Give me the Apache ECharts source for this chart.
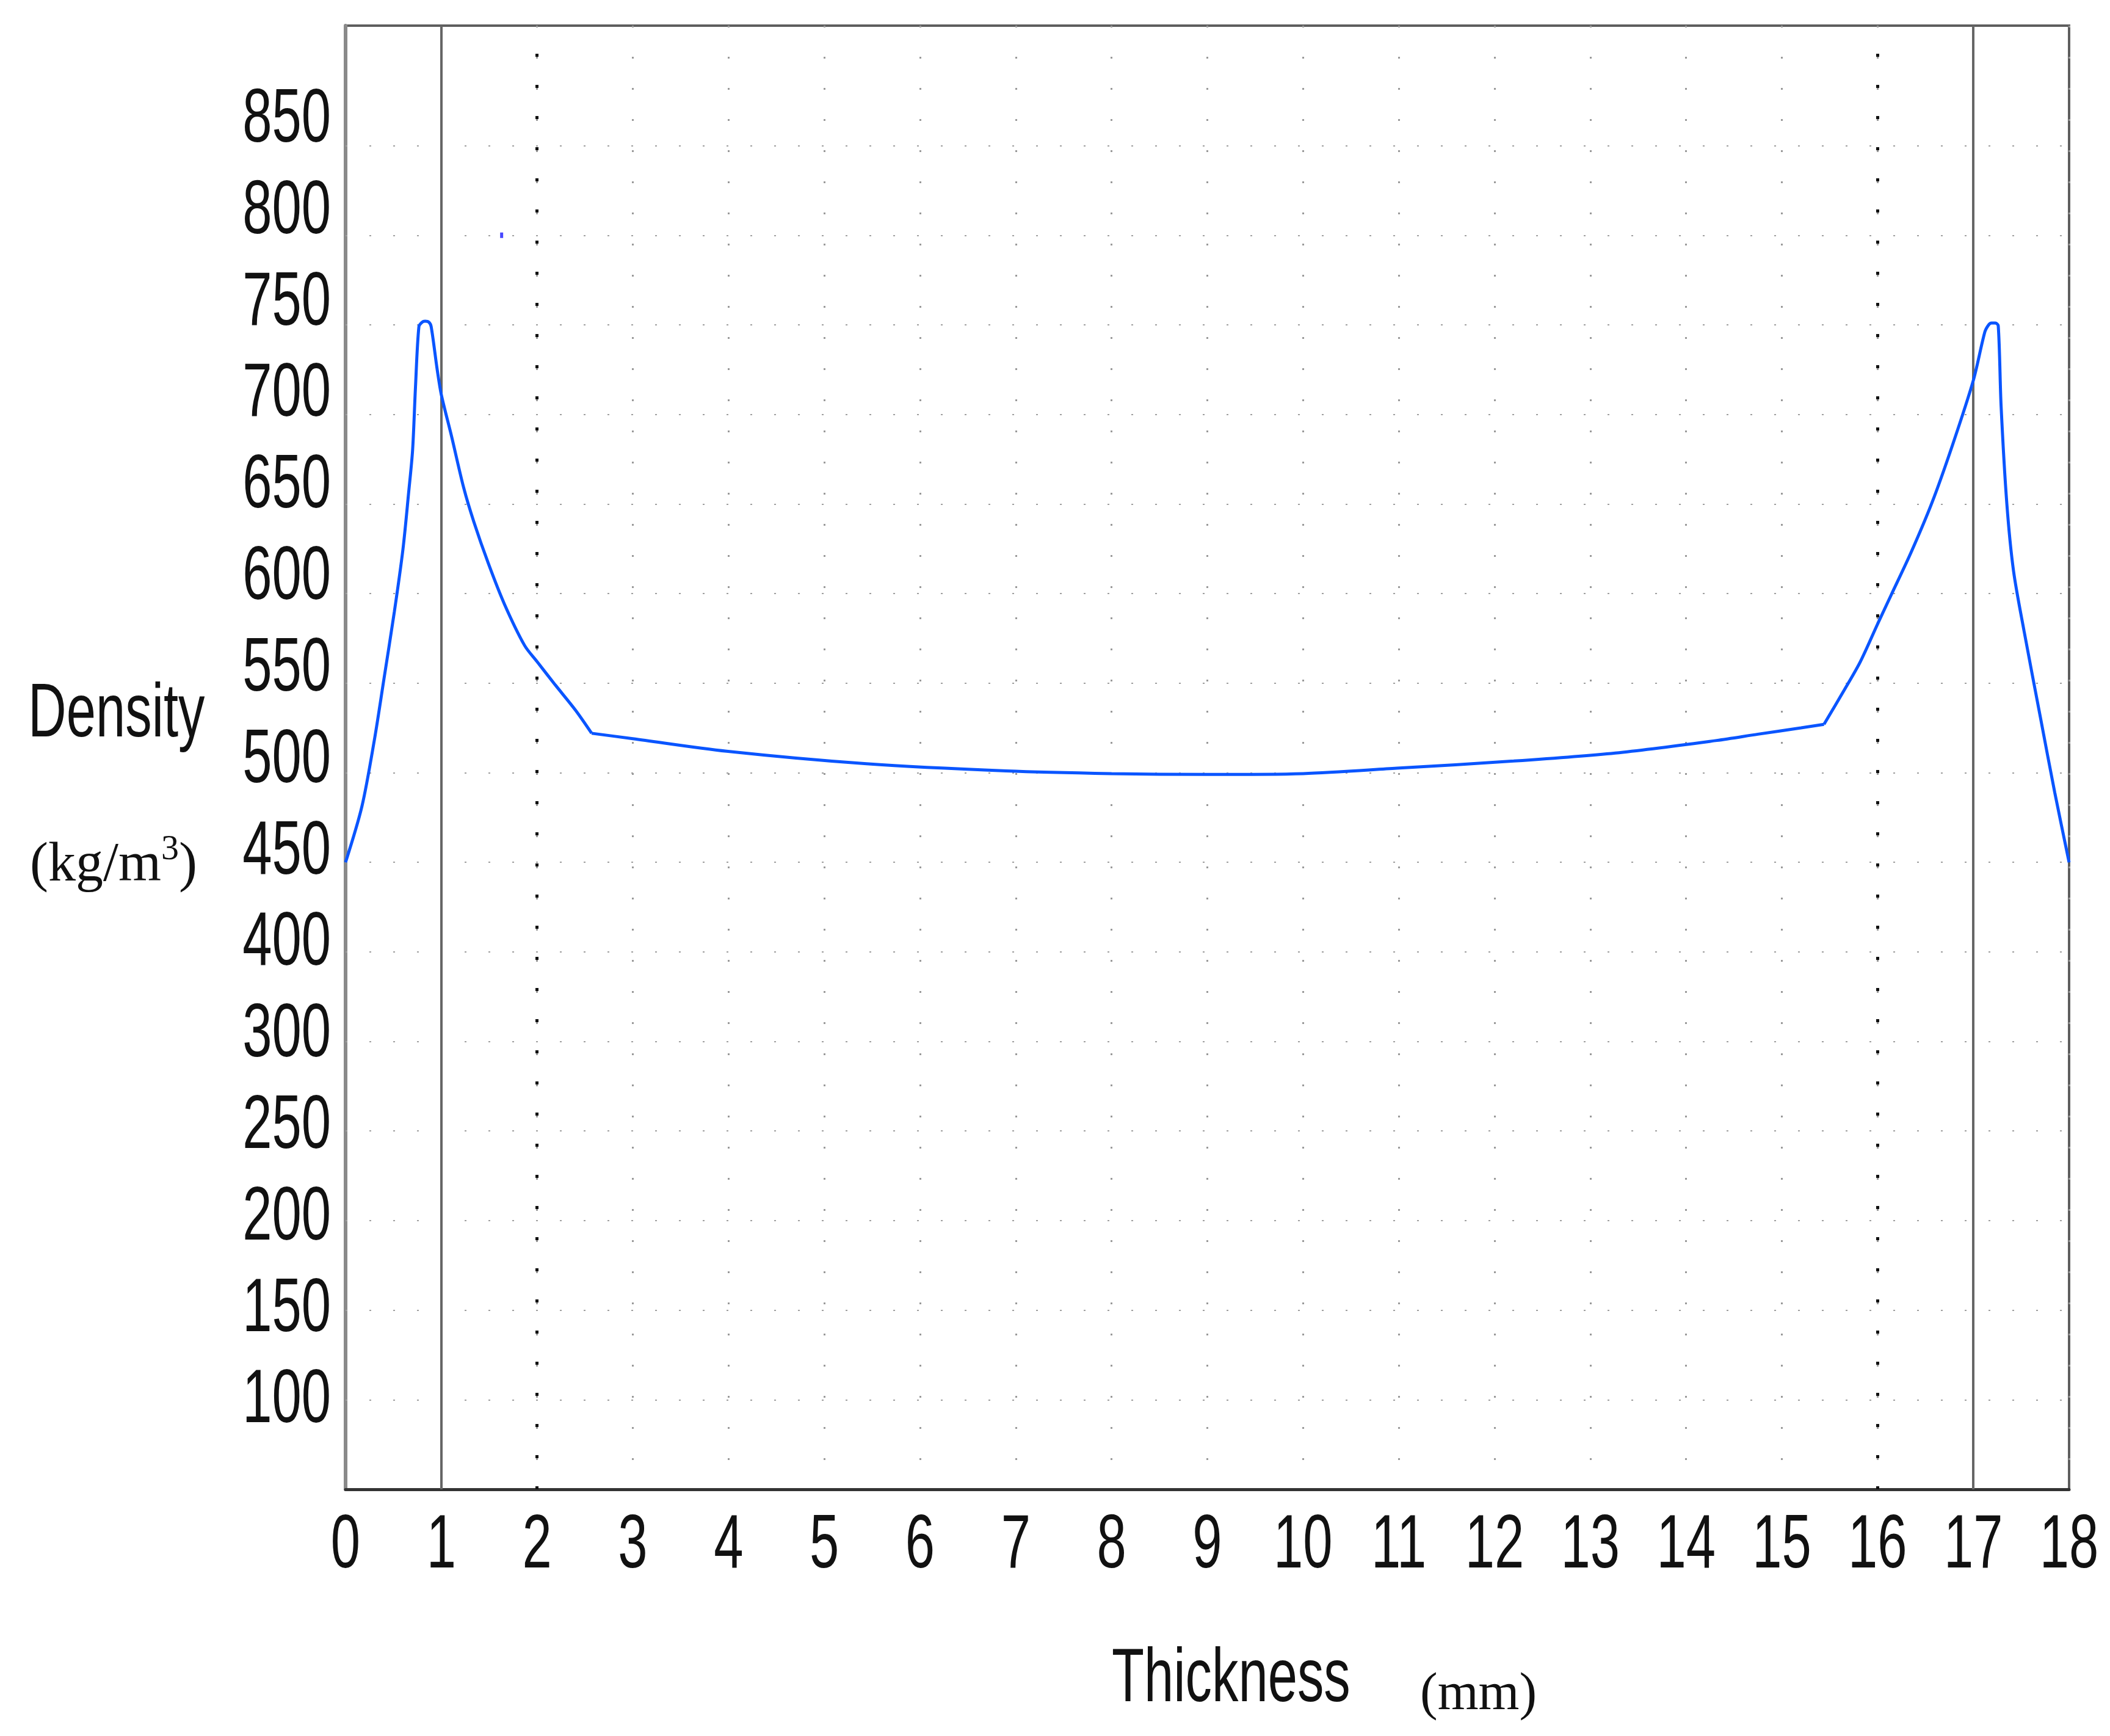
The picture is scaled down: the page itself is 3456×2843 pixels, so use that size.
<!DOCTYPE html>
<html>
<head>
<meta charset="utf-8">
<script src="https://cdn.jsdelivr.net/npm/echarts@6/dist/echarts.min.js"></script>
<style>
  html, body { margin: 0; padding: 0; background: #ffffff; }
  #chart { width: 3456px; height: 2843px; }
</style>
</head>
<body>
<div id="chart"></div>
<script>
// ---- data ----
const thickness = [0, 0.17, 0.30, 0.40, 0.51, 0.60, 0.66, 0.70, 0.73, 0.766, 0.80, 0.83, 0.87, 0.894, 0.957, 1.0,
  1.106, 1.234, 1.34, 1.49, 1.66, 1.87, 2.0, 2.19, 2.40, 2.57, 3.0, 3.98, 5.44, 6.90, 8.0, 9.0, 10.0, 10.98,
  12.2, 13.26, 14.32, 14.75, 15.2, 15.44, 15.65, 15.82, 16.0, 16.14, 16.35, 16.57, 16.78, 17.0, 17.12, 17.16,
  17.19, 17.23, 17.26, 17.29, 17.35, 17.42, 17.53, 17.70, 17.85, 18.0];
const density = [450, 481, 518, 552, 590, 625, 657, 680, 715, 749, 751.5, 752, 751.5, 749, 725, 711,
  688, 659, 640, 617, 594, 571, 562, 549, 535, 522, 519, 512, 505, 501, 499.5, 499, 499.5, 502.5,
  506.5, 511, 518, 521.5, 525, 527, 546, 562, 583, 599, 623, 651, 682.5, 719, 746, 750,
  751, 751, 749.5, 704.5, 650, 612.5, 579, 531, 489, 450];
// thickness values where the profile has a sharp corner (face layer / core boundary)
const cornerX = [2.57, 15.44];
const strayX = [1.63];
const strayY = [800];

const xTickValues = [0, 1, 2, 3, 4, 5, 6, 7, 8, 9, 10, 11, 12, 13, 14, 15, 16, 17, 18];
const xTickLabels = ['0','1','2','3','4','5','6','7','8','9','10','11','12','13','14','15','16','17','18'];
// horizontal dotted grid values (density)
const yGridValues = [150, 200, 250, 300, 350, 400, 450, 500, 550, 600, 650, 700, 750, 800, 850];
// tick labels exactly as printed on the reference (it skips 350), listed bottom to top
const yTickLabels = ['100','150','200','250','300','400','450','500','550','600','650','700','750','800','850'];

const boundaryLines = [1, 17];
const coreLines = [2, 16];

const xTitle = 'Thickness';
const xUnit = '(mm)';
const yTitle = 'Density';
const yUnitMain = '(kg/m';
const yUnitSup = '3';
const yUnitEnd = ')';

// ---- chart ----
const SANS = "'Liberation Sans', Arial, sans-serif";
const SERIF = "'Liberation Serif', 'Times New Roman', serif";
const SQUEEZE = 0.7;   // the reference type is horizontally condensed
const LINE_COLOR = '#0a55ff';

const points = thickness.map((t, i) => [t, density[i]]);
// split the profile at its corners so each smooth piece keeps the corners sharp
const cuts = [0, ...cornerX.map(c => thickness.indexOf(c)), thickness.length - 1];
const pieces = [];
for (let k = 0; k < cuts.length - 1; k++) pieces.push(points.slice(cuts[k], cuts[k + 1] + 1));

const chart = echarts.init(document.getElementById('chart'), null, { renderer: 'canvas' });

const lineSeries = pieces.map((piece, k) => ({
  type: 'line', yAxisIndex: 0, name: 'Density',
  data: piece, showSymbol: false, smooth: 0.3,
  lineStyle: { color: LINE_COLOR, width: 5 }, z: 5
}));

lineSeries[0].markLine = {
  silent: true, symbol: 'none', label: { show: false }, animation: false,
  data: [
    ...yGridValues.map(v => ({ yAxis: v, lineStyle: { color: '#a0a0a0', width: 2, type: [3, 36] } })),
    ...boundaryLines.map(v => ({ xAxis: v, lineStyle: { color: '#666666', width: 4, type: 'solid' } })),
    ...coreLines.map(v => ({ xAxis: v, lineStyle: { color: '#111111', width: 5, type: [5, 46] } }))
  ]
};

chart.setOption({
  animation: false,
  backgroundColor: '#ffffff',
  grid: {
    left: 566, right: 67, top: 42, bottom: 404,
    show: true, borderColor: '#5e5e5e', borderWidth: 4, backgroundColor: 'transparent'
  },
  xAxis: {
    type: 'value', min: 0, max: 18, interval: 1,
    axisLine: { show: true, onZero: false, lineStyle: { color: '#333333', width: 5 } },
    axisTick: { show: false },
    axisLabel: { show: false },
    splitLine: { show: true, lineStyle: { color: '#9a9a9a', width: 3, type: [3, 48] } }
  },
  yAxis: [
    {
      type: 'value', min: 100, max: 917, interval: 50,
      axisLine: { show: true, lineStyle: { color: '#8a8a8a', width: 6 } },
      axisTick: { show: false },
      axisLabel: { show: false },
      splitLine: { show: false }
    },
    {
      // position scale for the printed tick labels
      type: 'value', min: -1, max: 15, interval: 1, position: 'left', show: false
    }
  ],
  series: [
    ...lineSeries,
    {
      type: 'scatter', yAxisIndex: 0,
      data: strayX.map((x, i) => [x, strayY[i]]),
      symbol: 'rect', symbolSize: [5, 9], itemStyle: { color: '#1a1aff' }, z: 6
    }
  ]
});

// ---- labels: condensed text placed through the axes' own scales ----
function label(x, y, text, align, font) {
  return {
    type: 'text', x: x, y: y, scaleX: SQUEEZE, silent: true, z: 10,
    style: {
      text: text, x: 0, y: 0, font: font, fill: '#111111',
      align: align, verticalAlign: 'middle', textAlign: align, textVerticalAlign: 'middle'
    }
  };
}

const els = [];
const axisY = chart.convertToPixel({ yAxisIndex: 0 }, 100);
const axisX = chart.convertToPixel({ xAxisIndex: 0 }, 0);
const tickFont = "124px " + SANS;

xTickValues.forEach((v, i) => {
  const px = chart.convertToPixel({ xAxisIndex: 0 }, v);
  els.push(label(px, axisY + 94, xTickLabels[i], 'center', tickFont));
});
yTickLabels.forEach((t, k) => {
  const py = chart.convertToPixel({ yAxisIndex: 1 }, k);
  els.push(label(axisX - 24, py + 6, t, 'right', tickFont));
});

els.push(label(46, 1172, yTitle, 'left', tickFont));
els.push(label(1821, 2752, xTitle, 'left', tickFont));

// serif unit labels (not condensed)
els.push({
  type: 'text', x: 49, y: 1413, silent: true, z: 10,
  style: {
    text: '{a|' + yUnitMain + '}{s|' + yUnitSup + '}{a|' + yUnitEnd + '}',
    x: 0, y: 0, fill: '#111111', align: 'left', verticalAlign: 'middle',
    textAlign: 'left', textVerticalAlign: 'middle',
    rich: {
      a: { font: "90px " + SERIF, fill: '#111111', lineHeight: 100, verticalAlign: 'bottom' },
      s: { font: "58px " + SERIF, fill: '#111111', lineHeight: 100, verticalAlign: 'top' }
    }
  }
});
els.push({
  type: 'text', x: 2326, y: 2776, silent: true, z: 10,
  style: {
    text: xUnit, x: 0, y: 0, font: "86px " + SERIF, fill: '#111111',
    align: 'left', verticalAlign: 'middle', textAlign: 'left', textVerticalAlign: 'middle'
  }
});

chart.setOption({ graphic: { elements: els } });
</script>
</body>
</html>
